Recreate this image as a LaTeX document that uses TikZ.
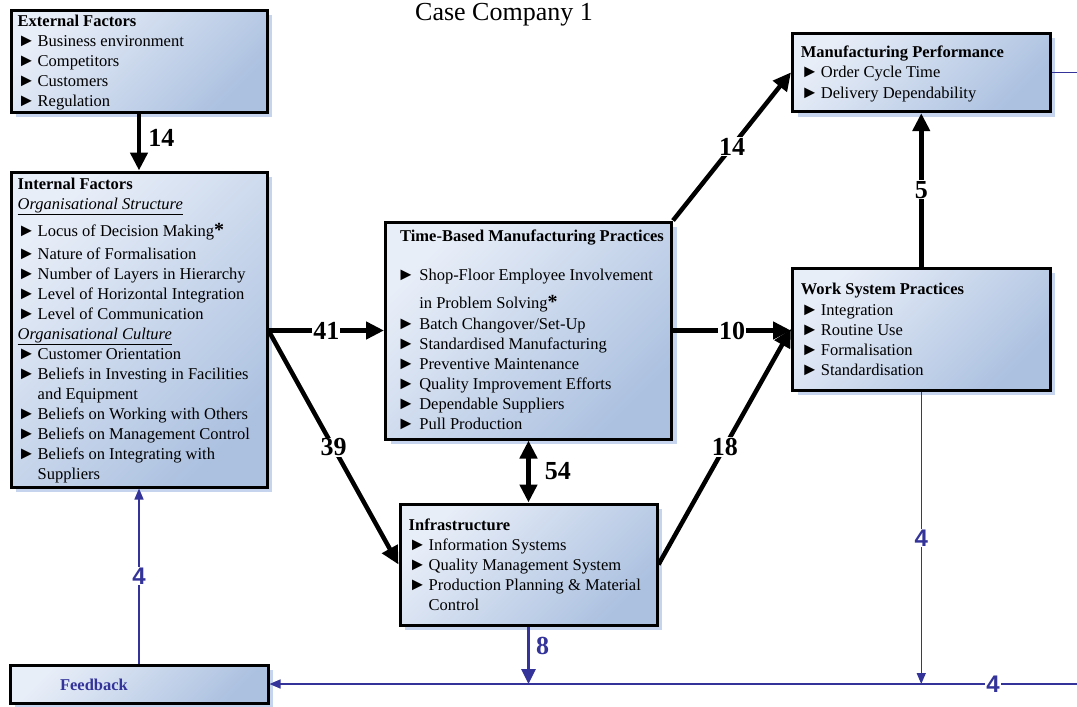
\documentclass[tikz,border=0pt]{standalone}
\usepackage{fontspec}
\setmainfont{Liberation Serif}
\newfontfamily\numsans{Liberation Sans}
\usetikzlibrary{arrows.meta,shadows}

\definecolor{boxlight}{RGB}{232,238,248}
\definecolor{boxdark}{RGB}{172,193,224}
\definecolor{shadowblue}{RGB}{198,212,238}
\definecolor{fbblue}{RGB}{51,51,153}

% list bullet in a fixed-width slot, continuation indent, starred item mark
\newcommand{\bul}[1][20pt]{\makebox[#1][l]{{\fontsize{18}{18}\selectfont ►}}}
\newcommand{\contind}[1][20pt]{\hspace*{#1}}
\newcommand{\bigast}{{\fontsize{20}{20}\selectfont\bfseries *}}

\tikzset{
  panel/.style={draw=black, line width=3pt, anchor=north west, inner sep=0pt,
    xshift=-1.5pt, yshift=1.5pt,
    top color=boxlight, bottom color=boxdark, shading angle=45,
    general shadow={fill=shadowblue, shadow xshift=5pt, shadow yshift=-5pt}},
  body/.style={anchor=north west, inner sep=0pt, align=left,
    font=\fontsize{16.5}{20}\selectfont},
  link/.style={line width=4.5pt, -{Triangle[length=18pt,width=17pt]}},
  dblink/.style={line width=4.5pt, {Triangle[length=18pt,width=17pt]}-{Triangle[length=18pt,width=17pt]}},
  num/.style={font=\fontsize{26}{26}\selectfont\bfseries, fill=white, inner sep=1pt},
  fbline/.style={draw=fbblue, line width=1.5pt, -{Triangle[length=11pt,width=9pt]}},
  fbthick/.style={draw=fbblue, line width=3.2pt, -{Triangle[length=15pt,width=14pt]}},
  fbnum/.style={font=\numsans\fontsize{24}{24}\selectfont\bfseries, text=fbblue, fill=white, inner sep=1pt},
}

\begin{document}
\begin{tikzpicture}[x=1pt,y=-1pt]
\useasboundingbox (0,0) rectangle (1077,707);

\node[font=\fontsize{26}{26}\selectfont, anchor=base, inner sep=0pt] (title) at (504,20) {Case Company 1};

% boxes
\node[panel, minimum width=256pt, minimum height=102pt] (ext) at (11,10) {};
\node[panel, minimum width=256pt, minimum height=315pt] (int) at (11,172) {};
\node[panel, minimum width=286pt, minimum height=217pt] (tb) at (385.5,222) {};
\node[panel, minimum width=257pt, minimum height=121pt] (infra) at (400,504) {};
\node[panel, minimum width=257.5pt, minimum height=78.7pt] (mp) at (792.5,33) {};
\node[panel, minimum width=257.5pt, minimum height=122pt] (wsp) at (792.5,268) {};
\node[panel, minimum width=258pt, minimum height=38pt] (fb) at (10,665) {};

% box contents
\node[body] (extT) at (17.5,14.8) {\textbf{External Factors}\\
  \bul Business environment\\
  \bul Competitors\\
  \bul Customers\\
  \bul Regulation};

\node[body] (intT) at (17.5,178.1) {\textbf{Internal Factors}\\
  \underline{\textit{Organisational Structure}}\\[6.7pt]
  \bul Locus of Decision Making\bigast\\[3.3pt]
  \bul Nature of Formalisation\\
  \bul Number of Layers in Hierarchy\\
  \bul Level of Horizontal Integration\\
  \bul Level of Communication\\
  \underline{\textit{Organisational Culture}}\\
  \bul Customer Orientation\\
  \bul Beliefs in Investing in Facilities\\
  \contind and Equipment\\
  \bul Beliefs on Working with Others\\
  \bul Beliefs on Management Control\\
  \bul Beliefs on Integrating with\\
  \contind Suppliers};

\node[body] (tbT) at (397,229.5) {\hspace*{3pt}\textbf{Time-Based Manufacturing Practices}\\[19.3pt]
  \bul[18pt] Shop-Floor Employee Involvement\\[7.7pt]
  \contind[18pt] in Problem Solving\bigast\\[1.3pt]
  \bul[18pt] Batch Changover/Set-Up\\
  \bul[18pt] Standardised Manufacturing\\
  \bul[18pt] Preventive Maintenance\\
  \bul[18pt] Quality Improvement Efforts\\
  \bul[18pt] Dependable Suppliers\\
  \bul[18pt] Pull Production};

\node[body] (infraT) at (408.5,518.8) {\textbf{Infrastructure}\\
  \bul Information Systems\\
  \bul Quality Management System\\
  \bul Production Planning \& Material\\
  \contind Control};

\node[body] (mpT) at (800.7,46.1) {\textbf{Manufacturing Performance}\\
  \bul Order Cycle Time\\[0.7pt]
  \bul Delivery Dependability};

\node[body] (wspT) at (800.7,283.1) {\textbf{Work System Practices}\\[0.7pt]
  \bul Integration\\
  \bul Routine Use\\
  \bul Formalisation\\
  \bul Standardisation};

\node[font=\fontsize{16.5}{20}\selectfont\bfseries, text=fbblue] (fbT) at (94,685) {Feedback};

% causal links
\draw[link] (ext.south) -- (int.north)
  node[num, fill=none, pos=0.42, right=6pt] {14};
\draw[link] (int.east |- tb.west) coordinate (split) -- (tb.west)
  node[num, midway] {41};
\draw[link] (split) -- (infra.west) node[num, midway] {39};
\draw[dblink] (tb.south) -- (tb.south |- infra.north)
  node[num, fill=none, midway, right=13pt] {54};
\draw[link] (tb.north east) -- (mp.west) node[num, midway] {14};
\draw[link] (tb.east) -- (wsp.west |- tb.east) node[num, midway] {10};
\draw[link] (infra.east) -- (wsp.west) node[num, midway] {18};
\draw[link] (wsp.north) -- (mp.south) node[num, midway] {5};

% feedback loop
\coordinate (rimx) at (1077,0);
\coordinate (rimtop) at (mp.east -| rimx);
\coordinate (rimbot) at (fb.east -| rimx);
\draw[fbline, -] (mp.east) -- (rimtop);
\draw[fbline] (rimbot) -- (fb.east) node[fbnum, pos=0.104] {4};
\draw[fbline] (wsp.south) -- (wsp.south |- fb.east) node[fbnum, midway] {4};
\draw[fbthick] (infra.south) -- (infra.south |- fb.east)
  node[font=\fontsize{26}{26}\selectfont\bfseries, text=fbblue, inner sep=1pt, pos=0.33, right=5pt] {8};
\draw[fbline] (fb.north) -- (int.south) node[fbnum, midway] {4};
\end{tikzpicture}
\end{document}
